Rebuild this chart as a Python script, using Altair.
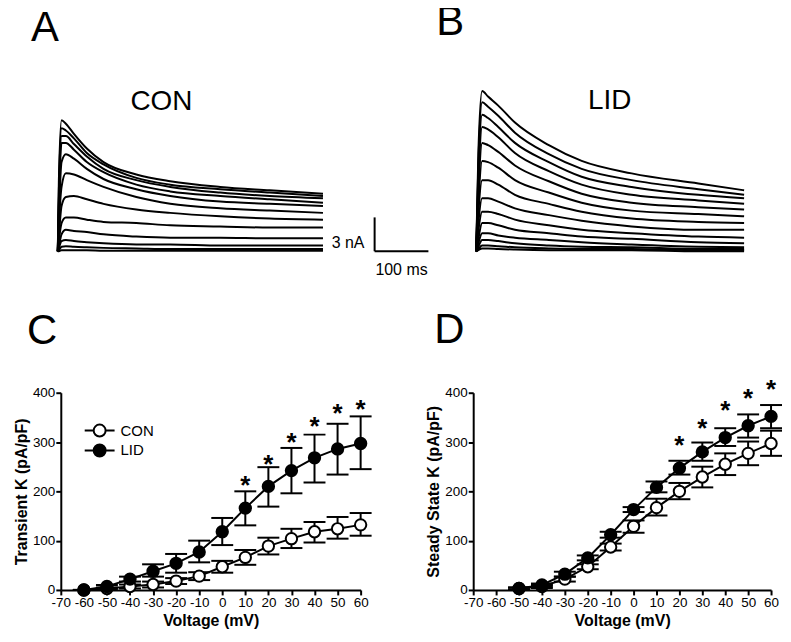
import altair as alt
import pandas as pd

# ---------------- Panel A (CON) current traces: time (ms), current (nA)
a_time = [0, 2, 7, 15, 30, 54, 85, 146, 209, 302, 394, 493]
a_traces = [
    [0, 6.2, 11.6, 11.3, 10.4, 9.1, 7.9, 6.8, 6.2, 5.7, 5.4, 5.1],
    [0, 5.3, 10.9, 10.7, 10.0, 8.7, 7.7, 6.5, 5.9, 5.5, 5.2, 4.9],
    [0, 4.4, 10.2, 10.2, 9.5, 8.4, 7.3, 6.3, 5.7, 5.2, 4.9, 4.7],
    [0, 4.0, 9.6, 9.6, 9.0, 7.9, 7.0, 5.9, 5.3, 4.9, 4.6, 4.3],
    [0, 3.1, 7.9, 8.6, 8.2, 7.3, 6.4, 5.5, 4.9, 4.4, 4.2, 4.0],
    [0, 2.2, 5.7, 6.9, 6.8, 6.3, 5.7, 4.8, 4.2, 3.8, 3.6, 3.4],
    [0, 1.3, 4.0, 4.8, 4.9, 4.6, 4.2, 3.7, 3.4, 3.1, 2.9, 2.8],
    [0, 0.9, 2.5, 3.0, 3.0, 2.8, 2.6, 2.5, 2.3, 2.2, 2.1, 2.1],
    [0, 0.4, 1.5, 1.9, 1.8, 1.7, 1.5, 1.3, 1.2, 1.2, 1.15, 1.15],
    [0, 0.3, 0.9, 1.0, 0.9, 0.8, 0.7, 0.6, 0.6, 0.5, 0.5, 0.5],
    [0, 0.1, 0.4, 0.45, 0.4, 0.35, 0.3, 0.25, 0.2, 0.2, 0.2, 0.2],
    [0, 0.0, 0.1, 0.1, 0.1, 0.1, 0.05, 0.05, 0.05, 0.05, 0.05, 0.05],
]

# ---------------- Panel B (LID) current traces
b_time = [0, 4, 11, 22, 41, 72, 135, 196, 289, 413, 498]
b_traces = [
    [0, 8.7, 14.2, 13.7, 12.9, 11.4, 9.4, 8.0, 6.9, 6.0, 5.4],
    [0, 7.8, 13.2, 12.8, 12.0, 10.5, 8.6, 7.3, 6.3, 5.5, 5.0],
    [0, 6.9, 12.1, 11.8, 11.0, 9.6, 7.9, 6.6, 5.7, 5.0, 4.7],
    [0, 6.0, 11.0, 10.8, 10.1, 8.7, 7.1, 5.9, 5.0, 4.5, 4.2],
    [0, 5.1, 9.6, 9.4, 8.8, 7.6, 6.2, 5.1, 4.3, 3.9, 3.7],
    [0, 4.2, 8.0, 7.9, 7.4, 6.3, 5.2, 4.3, 3.6, 3.3, 3.1],
    [0, 3.4, 6.3, 6.3, 5.9, 5.0, 4.2, 3.5, 2.9, 2.6, 2.5],
    [0, 2.5, 4.7, 4.7, 4.4, 3.8, 3.2, 2.7, 2.2, 1.9, 1.9],
    [0, 1.8, 3.5, 3.5, 3.3, 2.8, 2.3, 1.9, 1.6, 1.3, 1.2],
    [0, 1.1, 2.5, 2.5, 2.3, 1.9, 1.6, 1.3, 1.1, 0.8, 0.7],
    [0, 0.7, 1.6, 1.6, 1.4, 1.2, 1.0, 0.8, 0.6, 0.4, 0.35],
    [0, 0.4, 1.0, 1.0, 0.9, 0.7, 0.5, 0.4, 0.35, 0.2, 0.2],
    [0, 0.2, 0.5, 0.5, 0.45, 0.35, 0.25, 0.2, 0.2, 0.1, 0.1],
    [0, 0.1, 0.25, 0.25, 0.2, 0.15, 0.1, 0.1, 0.1, 0.0, 0.0],
]

# scale bar: 3 nA, 100 ms
bar_t0 = 589
bar_ms = 100
bar_nA = 3

# ---------------- Panel C: Transient K (pA/pF)
c_volt = [-60, -50, -40, -30, -20, -10, 0, 10, 20, 30, 40, 50, 60]
c_con = [0, 3, 7, 11, 18, 28, 47, 66, 89, 104, 118, 124, 132]
c_con_lo = [0, 1, 3, 5, 12, 20, 35, 51, 72, 85, 96, 104, 110]
c_con_hi = [0, 5, 11, 17, 24, 36, 59, 81, 106, 124, 138, 148, 156]
c_lid = [0, 7, 22, 38, 54, 77, 118, 166, 210, 242, 268, 286, 297]
c_lid_lo = [0, 4, 17, 27, 35, 56, 91, 131, 169, 196, 218, 234, 245]
c_lid_hi = [0, 10, 27, 52, 73, 100, 146, 200, 249, 288, 315, 337, 352]
c_star_volt = [10, 20, 30, 40, 50, 60]
c_star_y = [222, 265, 310, 343, 368, 378]

# ---------------- Panel D: Steady State K (pA/pF)
d_volt = [-50, -40, -30, -20, -10, 0, 10, 20, 30, 40, 50, 60]
d_con = [3, 7, 22, 47, 87, 129, 167, 200, 229, 255, 277, 297]
d_con_lo = [1, 4, 17, 42, 80, 116, 151, 184, 208, 233, 253, 272]
d_con_hi = [5, 10, 27, 52, 94, 141, 185, 217, 250, 277, 301, 323]
d_lid = [3, 10, 32, 65, 112, 163, 208, 247, 280, 309, 333, 352]
d_lid_lo = [1, 7, 27, 60, 106, 158, 198, 234, 262, 292, 309, 328]
d_lid_hi = [5, 13, 37, 70, 118, 168, 220, 262, 299, 328, 356, 375]
d_star_volt = [20, 30, 40, 50, 60]
d_star_y = [303, 339, 374, 399, 418]

x_ticks = list(range(-70, 61, 10))
y_ticks = [0, 100, 200, 300, 400]

FONT = "Liberation Sans"


def trace_df(times, traces):
    rows = []
    for k, tr in enumerate(traces):
        for t, v in zip(times, tr):
            rows.append({"t": t, "cur": v, "trace": k})
    return pd.DataFrame(rows)


def letter(txt, dx, offset):
    return alt.TitleParams(txt, anchor="start", frame="group", fontSize=42,
                           fontWeight="normal", font=FONT, color="black",
                           baseline="alphabetic", dx=dx, offset=offset)


Y_TR = alt.Scale(domain=[0, 15], nice=False, zero=False)


def trace_panel(times, traces, xdom, width, label, label_t, label_y, with_bar, title):
    xs = alt.Scale(domain=xdom, nice=False, zero=False)
    base = alt.Chart(trace_df(times, traces)).mark_line(
        color="black", strokeWidth=2, interpolate="monotone"
    ).encode(
        x=alt.X("t:Q", scale=xs, axis=None),
        y=alt.Y("cur:Q", scale=Y_TR, axis=None),
        detail="trace:N",
    )
    lab = alt.Chart(pd.DataFrame({"t": [label_t], "y": [label_y], "s": [label]})).mark_text(
        fontSize=28, font=FONT, align="center", baseline="alphabetic", color="black"
    ).encode(x=alt.X("t:Q", scale=xs, axis=None), y=alt.Y("y:Q", scale=Y_TR, axis=None), text="s:N")
    layers = [base, lab]
    if with_bar:
        vbar = alt.Chart(pd.DataFrame({"t": [bar_t0], "y0": [0], "y1": [bar_nA]})).mark_rule(
            color="black", strokeWidth=2
        ).encode(x=alt.X("t:Q", scale=xs, axis=None), y=alt.Y("y0:Q", scale=Y_TR, axis=None), y2="y1:Q")
        hbar = alt.Chart(pd.DataFrame({"t0": [bar_t0], "t1": [bar_t0 + bar_ms], "y": [0]})).mark_rule(
            color="black", strokeWidth=2
        ).encode(x=alt.X("t0:Q", scale=xs, axis=None), x2="t1:Q", y=alt.Y("y:Q", scale=Y_TR, axis=None))
        nA_lab = alt.Chart(pd.DataFrame({"t": [570], "y": [0.26], "s": [f"{bar_nA} nA"]})).mark_text(
            fontSize=16, font=FONT, align="right", baseline="alphabetic", color="black"
        ).encode(x=alt.X("t:Q", scale=xs, axis=None), y=alt.Y("y:Q", scale=Y_TR, axis=None), text="s:N")
        ms_lab = alt.Chart(pd.DataFrame({"t": [639], "y": [-2.1], "s": [f"{bar_ms} ms"]})).mark_text(
            fontSize=16, font=FONT, align="center", baseline="alphabetic", color="black"
        ).encode(x=alt.X("t:Q", scale=xs, axis=None), y=alt.Y("y:Q", scale=Y_TR, axis=None), text="s:N")
        layers += [vbar, hbar, nA_lab, ms_lab]
    return alt.layer(*layers).properties(width=width, height=170, title=title)


panel_a = trace_panel(a_time, a_traces, [5.6, 555.6], 297, "CON", 192.6, 12.5, True, letter("A", -30, -1))
panel_b = trace_panel(b_time, b_traces, [-5.6, 555.5], 303, "LID", 248, 12.6, False, letter("B", -37, 5))

SYM = "M-1,0L-0.4,0M0.4,0L1,0M0.4,0A0.4,0.4,0,1,1,-0.4,0A0.4,0.4,0,1,1,0.4,0Z"


def iv_panel(volt, con, con_lo, con_hi, lid, lid_lo, lid_hi, sv, sy, ytitle, width, show_legend, title):
    df = pd.DataFrame({
        "volt": volt + volt,
        "series": ["CON"] * len(volt) + ["LID"] * len(volt),
        "m": con + lid,
        "lo": con_lo + lid_lo,
        "hi": con_hi + lid_hi,
    })
    xs = alt.Scale(domain=[-70, 60], nice=False, zero=False)
    ys = alt.Scale(domain=[0, 400], nice=False)
    x_axis = alt.Axis(values=x_ticks, labelExpr="'' + datum.value", labelOverlap=False,
                      labelFlush=False, title="Voltage (mV)")
    y_axis = alt.Axis(values=y_ticks, title=ytitle)
    X = alt.X("volt:Q", scale=xs, axis=x_axis)

    def Y(field):
        return alt.Y(field, scale=ys, axis=y_axis)

    base = alt.Chart(df)
    line = base.mark_line(color="black", strokeWidth=2).encode(x=X, y=Y("m:Q"), detail="series:N")
    err = base.mark_rule(color="black", strokeWidth=2).encode(x=X, y=Y("lo:Q"), y2="hi:Q")
    cap_hi = base.mark_tick(orient="horizontal", size=22, thickness=2, color="black", opacity=1).encode(
        x=X, y=Y("hi:Q"))
    cap_lo = base.mark_tick(orient="horizontal", size=22, thickness=2, color="black", opacity=1).encode(
        x=X, y=Y("lo:Q"))
    if show_legend:
        leg = alt.Legend(orient="none", legendX=23, legendY=28, title=None, symbolType=SYM,
                         symbolSize=900, symbolStrokeColor="black", symbolStrokeWidth=2,
                         labelFontSize=15, labelFont=FONT, labelColor="black", labelOffset=5,
                         padding=0, clipHeight=20, rowPadding=0)
    else:
        leg = None
    fill = alt.Fill("series:N", scale=alt.Scale(domain=["CON", "LID"], range=["white", "black"]), legend=leg)
    pts = base.mark_point(shape="circle", size=130, filled=True, stroke="black", strokeWidth=2,
                          opacity=1).encode(x=X, y=Y("m:Q"), fill=fill)
    stars = alt.Chart(pd.DataFrame({"volt": sv, "ys": sy})).mark_text(
        text="*", fontSize=26, fontWeight="bold", font=FONT, baseline="alphabetic", dy=14, color="black"
    ).encode(x=X, y=Y("ys:Q"))
    return alt.layer(line, err, cap_hi, cap_lo, pts, stars).properties(width=width, height=198, title=title)


panel_c = iv_panel(c_volt, c_con, c_con_lo, c_con_hi, c_lid, c_lid_lo, c_lid_hi, c_star_volt, c_star_y,
                   "Transient K (pA/pF)", 301, True, letter("C", -34, 0))
panel_d = iv_panel(d_volt, d_con, d_con_lo, d_con_hi, d_lid, d_lid_lo, d_lid_hi, d_star_volt, d_star_y,
                   "Steady State K (pA/pF)", 299, False, letter("D", -39, -8))

chart = alt.concat(
    panel_a, panel_b, panel_c, panel_d,
    columns=2, spacing={"row": 142, "column": 113}, bounds="flush", align="none",
).resolve_scale(
    fill="independent"
).resolve_legend(
    fill="independent"
).properties(
    padding={"left": 4, "top": -9, "right": 0, "bottom": 0}
).configure(
    font=FONT, background="white"
).configure_view(
    stroke="transparent"
).configure_axis(
    domainColor="black", domainWidth=2, tickColor="black", tickWidth=2, tickSize=5,
    labelColor="black", labelFontSize=13.5, labelFont=FONT, labelPadding=1,
    titleColor="black", titleFontSize=16, titleFontWeight="bold", titleFont=FONT,
    titlePadding=3, grid=False, labelOverlap=False,
).configure_axisX(
    labelOverlap=False, labelFlush=False
)

chart.save("out.html", embed_options={"renderer": "svg", "actions": False})
